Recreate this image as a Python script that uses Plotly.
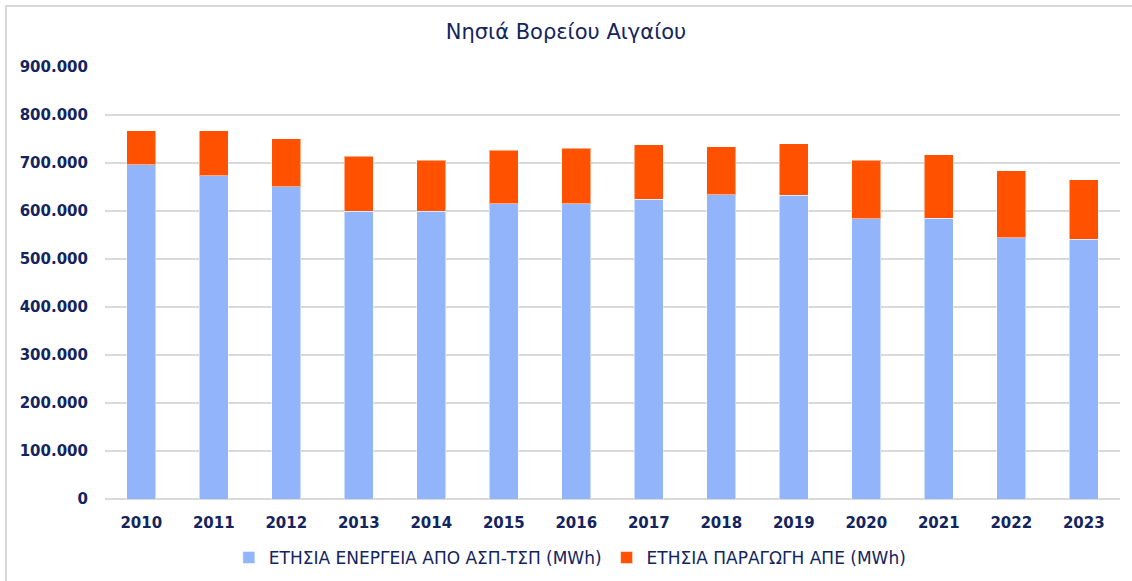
import plotly.graph_objects as go

years = ["2010", "2011", "2012", "2013", "2014", "2015", "2016",
         "2017", "2018", "2019", "2020", "2021", "2022", "2023"]
asp_tsp = [696000, 673000, 651000, 599000, 599000, 615000, 615000,
           624000, 634000, 633000, 584000, 585000, 544000, 541000]
ape = [71000, 94000, 100000, 115000, 107000, 112000, 116000,
       114000, 100000, 107000, 122000, 132000, 140000, 124000]
y_ticks = [0, 100000, 200000, 300000, 400000, 500000, 600000, 700000, 800000, 900000]

navy = "#13245e"
font_family = "DejaVu Sans"

fig = go.Figure()
fig.add_trace(go.Bar(
    x=years, y=asp_tsp, name="ΕΤΗΣΙΑ ΕΝΕΡΓΕΙΑ ΑΠΟ ΑΣΠ-ΤΣΠ (MWh)",
    marker=dict(color="#91b4fb", line=dict(color="rgba(255,255,255,0.5)", width=1)),
))
fig.add_trace(go.Bar(
    x=years, y=ape, name="ΕΤΗΣΙΑ ΠΑΡΑΓΩΓΗ ΑΠΕ (MWh)",
    marker=dict(color="#ff5100", line=dict(color="rgba(255,255,255,0.5)", width=1)),
))

L, R, T, B = 105, 12, 67, 82
W, H = 1132, 581
pw, ph = W - L - R, H - T - B

fig.update_layout(
    width=W, height=H,
    barmode="stack", bargap=0.6,
    separators=",.",
    paper_bgcolor="white", plot_bgcolor="white",
    margin=dict(l=L, r=R, t=T, b=B, autoexpand=False),
    font=dict(family=font_family, color=navy, size=15),
    title=dict(text="Νησιά Βορείου Αιγαίου", x=0.5, xanchor="center",
               y=1 - 32 / H, yanchor="middle",
               font=dict(family=font_family, size=21, color=navy)),
    xaxis=dict(showgrid=False, showline=False, ticks="",
               tickfont=dict(family=font_family, size=15, color=navy, weight="bold"),
               ticklabelstandoff=13),
    yaxis=dict(range=[0, 900000], tickvals=y_ticks, tickformat=",",
               showgrid=True, gridcolor="#d9d9d9", gridwidth=1.5,
               zeroline=True, zerolinecolor="#d9d9d9", zerolinewidth=1.5,
               showline=False, ticks="",
               tickfont=dict(family=font_family, size=15, color=navy, weight="bold"),
               ticklabelstandoff=16),
    legend=dict(orientation="h", x=0.458, xanchor="center",
                y=-(558 - 499) / ph, yanchor="middle",
                font=dict(family=font_family, size=17, color=navy),
                traceorder="normal"),
    showlegend=True,
)

# chart border
fig.add_shape(type="rect", xref="paper", yref="paper",
              x0=(6 - L) / pw, x1=(W + 5 - L) / pw,
              y0=(H - B - (H + 5)) / ph, y1=(H - B - 6) / ph,
              line=dict(color="#d9d9d9", width=2), fillcolor="rgba(0,0,0,0)",
              layer="below")

fig.write_html("out.html", config={"displayModeBar": False},
               post_script="document.body.style.margin='0';document.body.style.overflow='hidden';")
